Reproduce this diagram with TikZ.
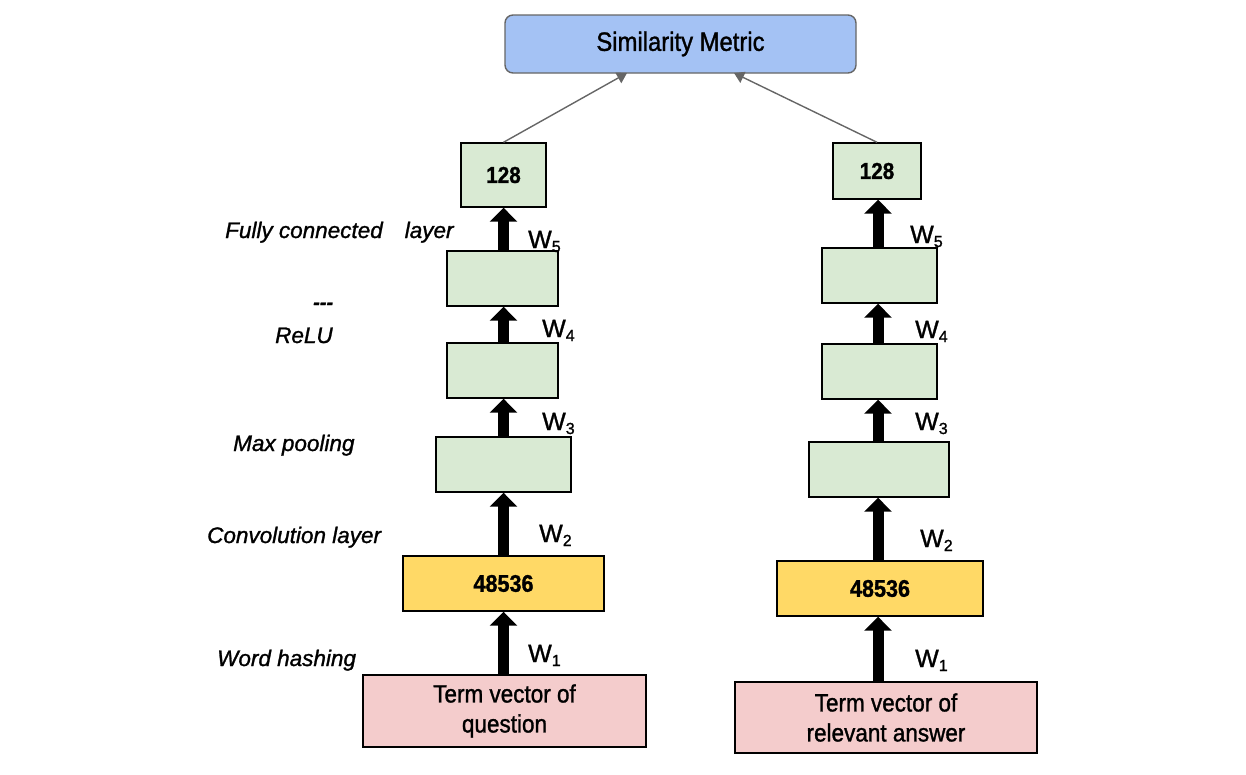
\documentclass[tikz,border=0pt]{standalone}
\usepackage{fontspec}
\setmainfont{Liberation Sans}[FakeBold=1.2]
\newfontfamily\condfont{Liberation Sans}[FakeStretch=0.9, FakeBold=1.2]
\usetikzlibrary{arrows.meta}
\definecolor{simblue}{HTML}{A4C2F4}
\definecolor{lgreen}{HTML}{D9EAD3}
\definecolor{lyellow}{HTML}{FFD966}
\definecolor{lpink}{HTML}{F4CCCC}
\definecolor{edgegray}{HTML}{666666}
\newcommand\Wlab[1]{W\raisebox{-4pt}{\fontsize{16}{16}\selectfont #1}}
\begin{document}
\begin{tikzpicture}[x=1pt,y=-1pt,
  basebox/.style={draw=black, line width=1.4pt, inner sep=0pt, align=center},
  greenbox/.style={basebox, fill=lgreen, font=\condfont\fontsize{23}{26}\selectfont\bfseries},
  yellowbox/.style={basebox, fill=lyellow, font=\condfont\fontsize{24}{26}\selectfont\bfseries},
  pinkbox/.style={basebox, fill=lpink, font=\condfont\fontsize{25}{30}\selectfont},
  simbox/.style={draw=edgegray, line width=1.4pt, rounded corners=8pt, fill=simblue, inner sep=0pt, font=\condfont\fontsize{26.5}{30}\selectfont},
  lbl/.style={inner sep=0pt, font=\fontsize{22.5}{26}\selectfont\itshape, anchor=base west},
  wlbl/.style={inner sep=0pt, font=\fontsize{25}{28}\selectfont, anchor=base west},
  bigarr/.style={line width=11pt, -{Triangle[width=27pt,length=14pt]}},
  thinarr/.style={draw=edgegray, line width=1.4pt, -{Triangle[width=12pt,length=10pt]}}
]
\useasboundingbox (0,0) rectangle (1246,774);

% Similarity box
\node[simbox, minimum width=351pt, minimum height=58pt] (sim) at (680.5,44) {Similarity Metric};
\coordinate (s1) at (627,73);
\coordinate (s2) at (734,73);

% left column
\coordinate (qc) at (503.5,0);
\node[greenbox, minimum width=85pt, minimum height=64pt] (q128) at (503.5,175) {128};
\node[greenbox, minimum width=111pt, minimum height=55pt] (q5) at (502.5,278.5) {};
\node[greenbox, minimum width=111pt, minimum height=55pt] (q4) at (502.5,370.5) {};
\node[greenbox, minimum width=135pt, minimum height=55pt] (q3) at (503.5,464.5) {};
\node[yellowbox, minimum width=201pt, minimum height=55pt] (qh) at (503.5,583.5) {48536};
\node[pinkbox, minimum width=283pt, minimum height=72pt] (qt) at (504.5,711) {Term vector of\\question};

% right column
\coordinate (ac) at (878,0);
\node[greenbox, minimum width=88pt, minimum height=56pt] (a128) at (877,171) {128};
\node[greenbox, minimum width=115pt, minimum height=55pt] (a5) at (879.5,275.5) {};
\node[greenbox, minimum width=115pt, minimum height=55pt] (a4) at (879.5,371.5) {};
\node[greenbox, minimum width=140pt, minimum height=55pt] (a3) at (879,469.5) {};
\node[yellowbox, minimum width=206pt, minimum height=55pt] (ah) at (880,588.5) {48536};
\node[pinkbox, minimum width=302pt, minimum height=71pt] (at) at (886,717.5) {Term vector of\\relevant answer};

% thick arrows left
\draw[bigarr] (qt.north -| qc) -- (qh.south -| qc);
\draw[bigarr] (qh.north -| qc) -- (q3.south -| qc);
\draw[bigarr] (q3.north -| qc) -- (q4.south -| qc);
\draw[bigarr] (q4.north -| qc) -- (q5.south -| qc);
\draw[bigarr] (q5.north -| qc) -- (q128.south -| qc);
% thick arrows right
\draw[bigarr] (at.north -| ac) -- (ah.south -| ac);
\draw[bigarr] (ah.north -| ac) -- (a3.south -| ac);
\draw[bigarr] (a3.north -| ac) -- (a4.south -| ac);
\draw[bigarr] (a4.north -| ac) -- (a5.south -| ac);
\draw[bigarr] (a5.north -| ac) -- (a128.south -| ac);

% thin arrows to similarity
\draw[thinarr] (q128.north) -- (s1);
\draw[thinarr] (a128.north) -- (s2);

% W labels left
\node[wlbl] (qw5) at (528,248) {\Wlab{5}};
\node[wlbl] (qw4) at (542,337) {\Wlab{4}};
\node[wlbl] (qw3) at (542,430) {\Wlab{3}};
\node[wlbl] (qw2) at (539,542) {\Wlab{2}};
\node[wlbl] (qw1) at (528,662) {\Wlab{1}};
% W labels right
\node[wlbl] (aw5) at (910,243) {\Wlab{5}};
\node[wlbl] (aw4) at (915,338) {\Wlab{4}};
\node[wlbl] (aw3) at (915,430) {\Wlab{3}};
\node[wlbl] (aw2) at (920,547) {\Wlab{2}};
\node[wlbl] (aw1) at (915,667) {\Wlab{1}};

% layer labels
\node[lbl] (lfc) at (225,238) {Fully connected\hspace{22pt}layer};
\node[lbl, font=\fontsize{20}{24}\selectfont\bfseries\itshape] (ldash) at (313,309) {-{}-{}-};
\node[lbl] (lrelu) at (275,343) {ReLU};
\node[lbl] (lmax) at (233,451) {Max pooling};
\node[lbl] (lconv) at (207,543) {Convolution layer};
\node[lbl] (lword) at (217,666) {Word hashing};
\end{tikzpicture}
\end{document}
